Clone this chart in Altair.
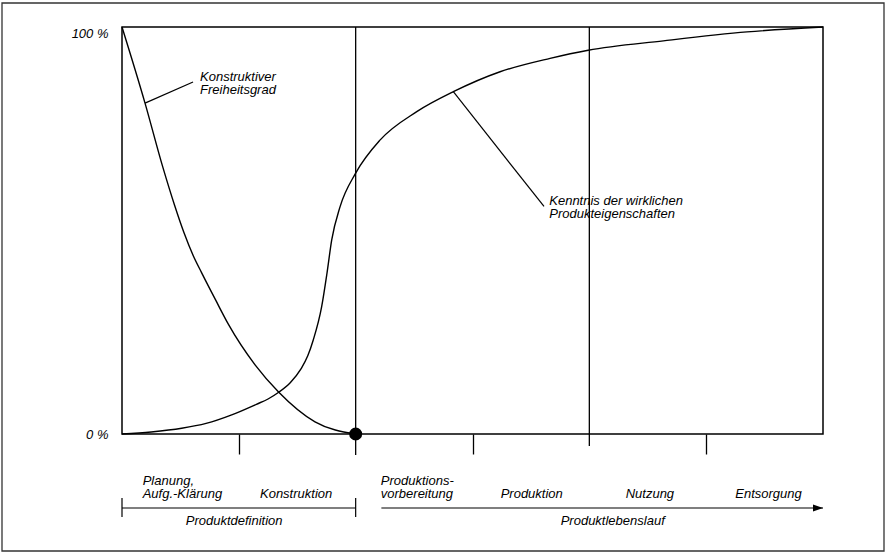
import altair as alt
import pandas as pd

# ---------------- data ----------------
# "Konstruktiver Freiheitsgrad" (percent), x in phase units (0..6)
x_freiheit = [0, 0.197, 0.35, 0.45, 0.53, 0.61, 0.682, 0.8, 0.91, 1.139, 1.338, 1.652, 2.0]
y_freiheit = [100, 81.3, 65.5, 56.2, 49.5, 43.8, 39.6, 33.0, 27.0, 17.0, 10.4, 3.0, 0]

# "Kenntnis der wirklichen Produkteigenschaften" (percent)
x_kenntnis = [0, 0.25, 0.511, 0.72, 0.939, 1.15, 1.25, 1.338, 1.44, 1.532, 1.59,
              1.637, 1.709, 1.755, 1.795, 1.866, 2.0, 2.208, 2.523, 2.836, 3.236,
              3.664, 3.99, 4.634, 5.35, 6.0]
y_kenntnis = [0, 0.5, 1.4, 2.6, 4.7, 7.3, 8.6, 10.2, 12.6, 16.0, 19.2,
              23.1, 31.3, 39.6, 47.7, 55.8, 64.1, 72.2, 79.2, 84.1, 89.0,
              92.3, 94.3, 96.6, 98.8, 100]

y_tick_values = [0, 100]
x_tick_values = [1, 3, 5]
bound_full = [2]
bound_short = [4]

annot_text = [["Konstruktiver", "Freiheitsgrad"],
              ["Kenntnis der wirklichen", "Produkteigenschaften"]]
annot_x = [0.668, 3.657]
annot_y = [86.8, 56.2]
leader_x = [0.197, 2.836]
leader_y = [81.3, 84.1]
leader_x2 = [0.608, 3.612]
leader_y2 = [86.5, 55.9]

phase_text = [["Planung,", "Aufg.-Klärung"], ["Konstruktion"],
              ["Produktions-", "vorbereitung"], ["Produktion"],
              ["Nutzung"], ["Entsorgung"]]
phase_x = [0.177, 1.181, 2.215, 3.241, 4.311, 5.249]

group_text = ["Produktdefinition", "Produktlebenslauf"]
group_x = [0.96, 4.2]
bracket_start, bracket_end = 0, 2
arrow_start, arrow_end = 2.22, 6

# ---------------- chart ----------------
W, H = 701, 407
FONT = "Liberation Sans"
LH = 13
xs = alt.Scale(domain=[0, 6], nice=False, zero=False)
ys = alt.Scale(domain=[0, 100], nice=False, zero=False)

x_axis = alt.Axis(values=x_tick_values, labels=False, domain=False, grid=False,
                  ticks=True, tickSize=20, tickColor="black", tickWidth=1.3,
                  title=None)
y_axis = alt.Axis(values=y_tick_values, labelExpr="datum.value + ' %'",
                  domain=False, grid=False, ticks=False, labelPadding=14,
                  labelFont=FONT, labelFontStyle="italic", labelFontSize=13,
                  labelColor="black",
                  labelBaseline={"condition": {"test": "datum.value == 100", "value": "top"},
                                 "value": "middle"},
                  title=None)


def X(field="x"):
    return alt.X(f"{field}:Q", scale=xs, axis=x_axis)


def Y(field="y"):
    return alt.Y(f"{field}:Q", scale=ys, axis=y_axis)


curves = pd.concat([
    pd.DataFrame({"x": x_freiheit, "y": y_freiheit, "series": "Freiheitsgrad"}),
    pd.DataFrame({"x": x_kenntnis, "y": y_kenntnis, "series": "Kenntnis"}),
])

curve_layer = alt.Chart(curves).mark_line(
    color="black", strokeWidth=1.4, interpolate="monotone"
).encode(x=X(), y=Y(), detail="series:N")

full_lines = alt.Chart(pd.DataFrame({"x": bound_full})).mark_rule(
    color="black", strokeWidth=1.3
).encode(x=X(), y=alt.value(0), y2=alt.value(H + 21))

short_lines = alt.Chart(pd.DataFrame({"x": bound_short})).mark_rule(
    color="black", strokeWidth=1.3
).encode(x=X(), y=alt.value(0), y2=alt.value(H + 12))

dot = alt.Chart(pd.DataFrame({"x": [bound_full[0]], "y": [0]})).mark_circle(
    color="black", opacity=1, size=170
).encode(x=X(), y=Y())

leaders = alt.Chart(pd.DataFrame({"x": leader_x, "y": leader_y,
                                  "x2": leader_x2, "y2": leader_y2})).mark_rule(
    color="black", strokeWidth=1.2
).encode(x=X(), y=Y(), x2="x2:Q", y2="y2:Q")

annots = alt.Chart(pd.DataFrame({"t": annot_text, "x": annot_x, "y": annot_y})).mark_text(
    align="left", baseline="alphabetic", font=FONT, fontStyle="italic",
    fontSize=13, lineHeight=LH, color="black"
).encode(x=X(), y=Y(), text="t")

# phase labels: the last line of each label sits on a common baseline
two_line = [(t, x) for t, x in zip(phase_text, phase_x) if len(t) == 2]
one_line = [(t, x) for t, x in zip(phase_text, phase_x) if len(t) == 1]
BASE = H + 64

phases2 = alt.Chart(pd.DataFrame({"t": [t for t, _ in two_line],
                                  "x": [x for _, x in two_line]})).mark_text(
    align="left", baseline="alphabetic", font=FONT, fontStyle="italic",
    fontSize=13, lineHeight=LH, color="black"
).encode(x=X(), y=alt.value(BASE - LH), text="t")

phases1 = alt.Chart(pd.DataFrame({"t": [t[0] for t, _ in one_line],
                                  "x": [x for _, x in one_line]})).mark_text(
    align="left", baseline="alphabetic", font=FONT, fontStyle="italic",
    fontSize=13, color="black"
).encode(x=X(), y=alt.value(BASE), text="t")

groups = alt.Chart(pd.DataFrame({"t": group_text, "x": group_x})).mark_text(
    align="center", baseline="alphabetic", font=FONT, fontStyle="italic",
    fontSize=13, color="black"
).encode(x=X(), y=alt.value(H + 91), text="t")

bracket = alt.Chart(pd.DataFrame({"x": [bracket_start], "x2": [bracket_end]})).mark_rule(
    color="black", strokeWidth=1.2
).encode(x=X(), x2="x2:Q", y=alt.value(H + 74))

caps = alt.Chart(pd.DataFrame({"x": [bracket_start, bracket_end]})).mark_rule(
    color="black", strokeWidth=1.2
).encode(x=X(), y=alt.value(H + 64), y2=alt.value(H + 83))

arrow_line = alt.Chart(pd.DataFrame({"x": [arrow_start], "x2": [arrow_end]})).mark_rule(
    color="black", strokeWidth=1.2
).encode(x=X(), x2="x2:Q", y=alt.value(H + 74))

arrow_head = alt.Chart(pd.DataFrame({"x": [arrow_end]})).mark_point(
    shape="M-2,-0.7L0,0L-2,0.7Z", filled=True, color="black", opacity=1, size=100
).encode(x=X(), y=alt.value(H + 74))

frame = alt.Chart(pd.DataFrame({"a": [0]})).mark_rect(
    filled=False, stroke="#333333", strokeWidth=1.3
).encode(x=alt.value(-120), x2=alt.value(762), y=alt.value(-24), y2=alt.value(524))

chart = alt.layer(
    frame, full_lines, short_lines, curve_layer, leaders, dot, annots,
    phases2, phases1, groups, bracket, caps, arrow_line, arrow_head
).properties(
    width=W, height=H,
    padding={"left": 122, "top": 27, "right": 64, "bottom": 121},
    autosize=alt.AutoSizeParams(type="none"),
    background="white",
).configure_view(stroke="black", strokeWidth=1.5)

chart.save("out.html", embed_options={"renderer": "svg", "actions": False})
